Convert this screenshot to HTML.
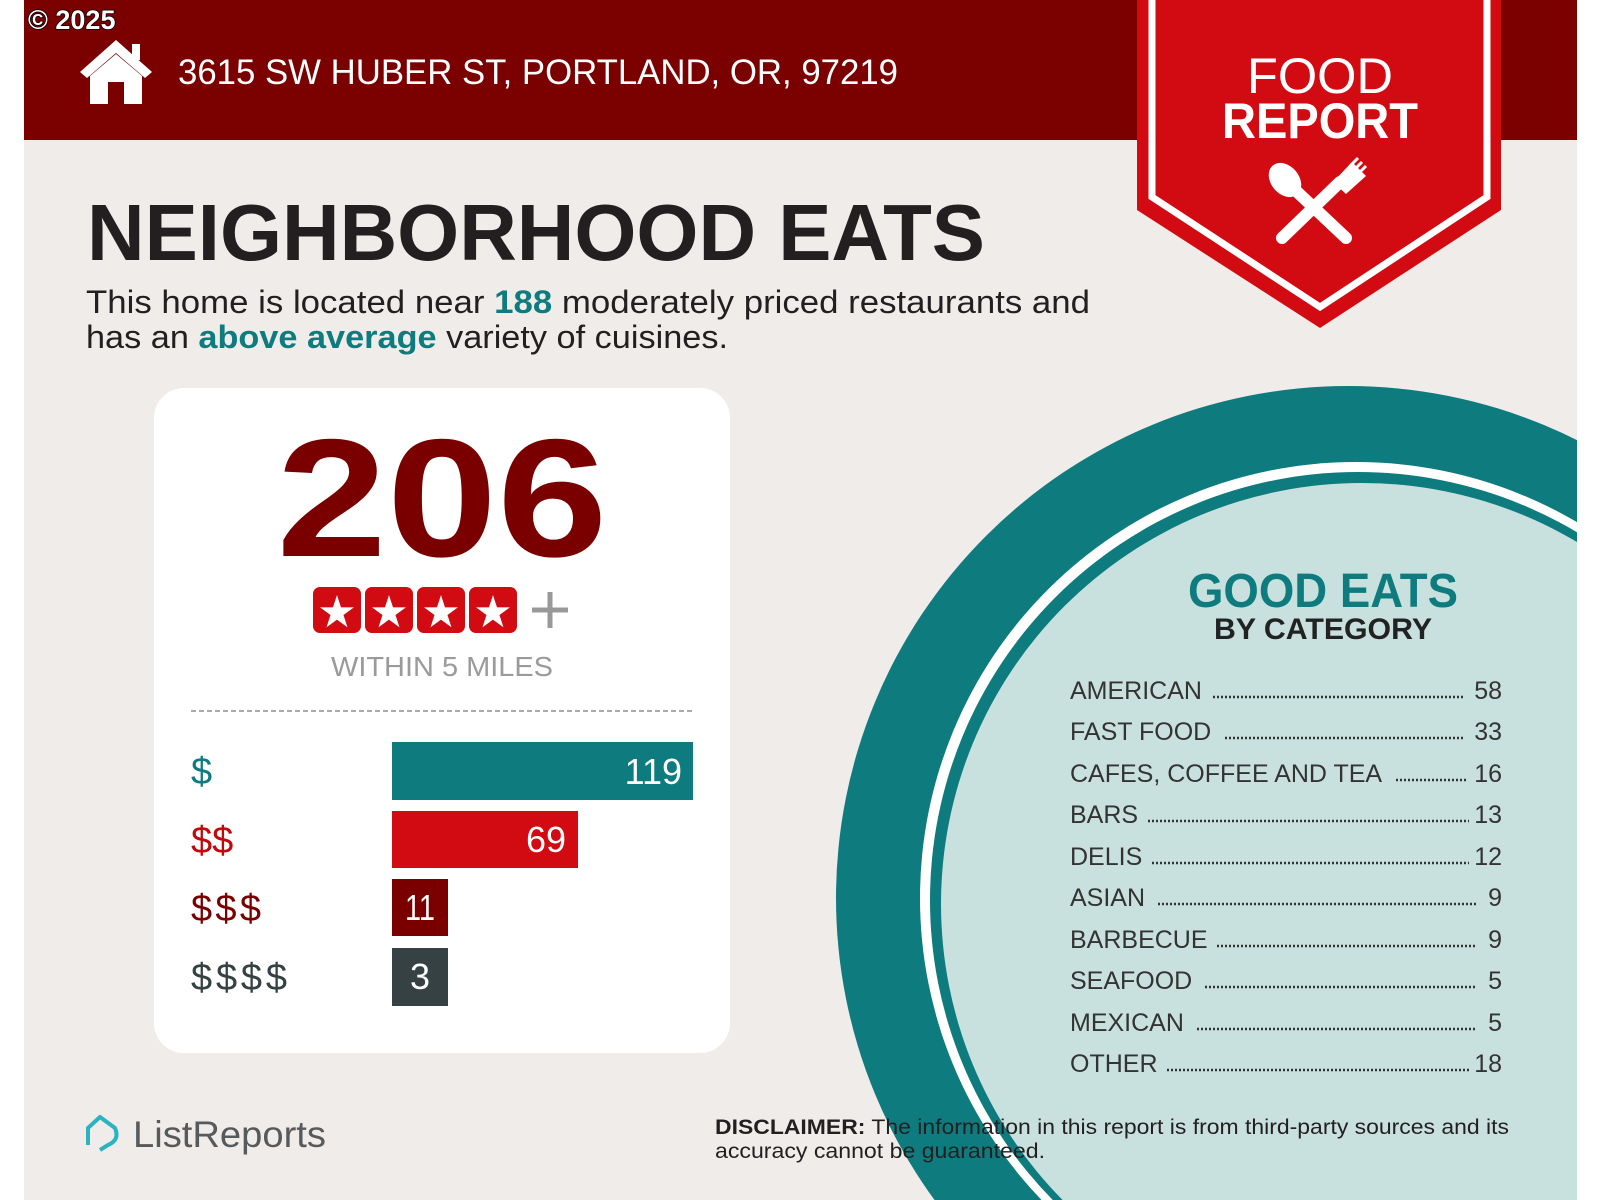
<!DOCTYPE html>
<html><head><meta charset="utf-8"><style>
html,body{margin:0;padding:0;background:#fff;width:1600px;height:1200px;overflow:hidden;}
svg{display:block;}
text{font-family:"Liberation Sans",sans-serif;}
</style></head><body>
<svg width="1600" height="1200" viewBox="0 0 1600 1200" xmlns="http://www.w3.org/2000/svg">
<defs><clipPath id="pg"><rect x="24" y="0" width="1553" height="1200"/></clipPath></defs>
<rect x="0" y="0" width="1600" height="1200" fill="#fff"/>
<rect x="24" y="0" width="1553" height="1200" fill="#f0ecea"/>
<rect x="24" y="0" width="1553" height="140" fill="#7b0000"/>
<g clip-path="url(#pg)">
<circle cx="1348" cy="898" r="512" fill="#0e7b7e"/>
<circle cx="1356" cy="898" r="436" fill="#fff"/>
<circle cx="1358" cy="900" r="428" fill="#0e7b7e"/>
<circle cx="1362" cy="904" r="421" fill="#c8e1de"/>
</g>
<text x="28" y="29" font-size="27" font-weight="bold" fill="#fff" stroke="#000" stroke-width="1.5" paint-order="stroke">© 2025</text>
<!-- house -->
<path d="M80 72 L116 40 L152 72 L145 78 L116 53 L87 78 Z" fill="#fff"/>
<path d="M90 76 L116 54 L142 76 L142 104 L124 104 L124 82 L108 82 L108 104 L90 104 Z" fill="#fff"/>
<rect x="132" y="44" width="8" height="16" fill="#fff"/>
<text x="178" y="84" font-size="35" fill="#fff" textLength="720" lengthAdjust="spacingAndGlyphs">3615 SW HUBER ST, PORTLAND, OR, 97219</text>
<!-- banner -->
<path d="M1137 0 L1501 0 L1501 210 L1320 328 L1137 210 Z" fill="#d20a11"/>
<path d="M1152 0 L1152 197 L1320 307 L1487 197 L1487 0" fill="none" stroke="#fff" stroke-width="7"/>
<text x="1320" y="93" font-size="50" fill="#fff" text-anchor="middle" textLength="146" lengthAdjust="spacingAndGlyphs">FOOD</text>
<text x="1320" y="138" font-size="50" font-weight="bold" fill="#fff" text-anchor="middle" textLength="196" lengthAdjust="spacingAndGlyphs">REPORT</text>
<line x1="1293" y1="188" x2="1346" y2="238" stroke="#fff" stroke-width="12" stroke-linecap="round"/>
<ellipse cx="1285" cy="180" rx="14" ry="19" transform="rotate(-40 1285 180)" fill="#fff"/>
<line x1="1282" y1="238" x2="1340" y2="182" stroke="#fff" stroke-width="12" stroke-linecap="round"/>
<path d="M1333 182 L1352 162 L1366 176 L1346 194 Z" fill="#fff"/>
<g stroke="#fff" stroke-width="3"><line x1="1350" y1="166" x2="1358" y2="158"/><line x1="1354" y1="170" x2="1362" y2="162"/><line x1="1358" y1="174" x2="1366" y2="166"/></g>
<!-- headline -->
<text x="87" y="260" font-size="80" font-weight="bold" fill="#231f20" textLength="898" lengthAdjust="spacingAndGlyphs">NEIGHBORHOOD EATS</text>
<text x="86" y="313" font-size="32" fill="#231f20" textLength="1004" lengthAdjust="spacingAndGlyphs">This home is located near <tspan fill="#0e7b7e" font-weight="bold">188</tspan> moderately priced restaurants and</text>
<text x="86" y="348" font-size="32" fill="#231f20" textLength="642" lengthAdjust="spacingAndGlyphs">has an <tspan fill="#0e7b7e" font-weight="bold">above average</tspan> variety of cuisines.</text>
<!-- card -->
<rect x="154" y="388" width="576" height="665" rx="30" fill="#fff"/>
<text x="442" y="556" font-size="168" font-weight="bold" fill="#7a0000" text-anchor="middle" textLength="331" lengthAdjust="spacingAndGlyphs">206</text>
<g fill="#d20a11">
<rect x="313" y="587" width="48" height="46" rx="7"/><rect x="365" y="587" width="48" height="46" rx="7"/>
<rect x="417" y="587" width="48" height="46" rx="7"/><rect x="469" y="587" width="48" height="46" rx="7"/>
</g>
<g fill="#fff" font-size="44" text-anchor="middle"><text x="337" y="627">★</text><text x="389" y="627">★</text><text x="441" y="627">★</text><text x="493" y="627">★</text></g>
<path d="M532 610 H568 M550 592 V628" stroke="#999" stroke-width="5"/>
<text x="442" y="676" font-size="28" fill="#9a9a9a" text-anchor="middle" textLength="222" lengthAdjust="spacingAndGlyphs">WITHIN 5 MILES</text>
<line x1="191" y1="711" x2="693" y2="711" stroke="#aaa" stroke-width="2" stroke-dasharray="5,3"/>
<rect x="392" y="742" width="301" height="58" fill="#0e7b7e"/>
<rect x="392" y="811" width="186" height="57" fill="#d20a11"/>
<rect x="392" y="879" width="56" height="57" fill="#7a0000"/>
<rect x="392" y="948" width="56" height="58" fill="#354142"/>
<g font-size="38">
<text x="191" y="784" fill="#0e7b7e">$</text>
<text x="191" y="853" fill="#c0080d">$$</text>
<text x="191" y="921" fill="#7a0000" textLength="70" lengthAdjust="spacing">$$$</text>
<text x="191" y="990" fill="#354142" textLength="96" lengthAdjust="spacing">$$$$</text>
</g>
<g font-size="36" fill="#fff" text-anchor="end">
<text x="682" y="784">119</text><text x="566" y="852">69</text>
</g>
<text x="420" y="920" font-size="36" fill="#fff" text-anchor="middle" textLength="30" lengthAdjust="spacingAndGlyphs">11</text>
<text x="420" y="989" font-size="36" fill="#fff" text-anchor="middle">3</text>
<!-- good eats -->
<text x="1323" y="607" font-size="48" font-weight="bold" fill="#0e7b7e" text-anchor="middle" textLength="270" lengthAdjust="spacingAndGlyphs">GOOD EATS</text>
<text x="1323" y="639" font-size="30" font-weight="bold" fill="#222" text-anchor="middle" textLength="218" lengthAdjust="spacingAndGlyphs">BY CATEGORY</text>
<g font-size="25" fill="#333">
<text x="1070" y="699">AMERICAN</text><text x="1502" y="699" text-anchor="end">58</text>
<text x="1070" y="740">FAST FOOD</text><text x="1502" y="740" text-anchor="end">33</text>
<text x="1070" y="782">CAFES, COFFEE AND TEA</text><text x="1502" y="782" text-anchor="end">16</text>
<text x="1070" y="823">BARS</text><text x="1502" y="823" text-anchor="end">13</text>
<text x="1070" y="865">DELIS</text><text x="1502" y="865" text-anchor="end">12</text>
<text x="1070" y="906">ASIAN</text><text x="1502" y="906" text-anchor="end">9</text>
<text x="1070" y="948">BARBECUE</text><text x="1502" y="948" text-anchor="end">9</text>
<text x="1070" y="989">SEAFOOD</text><text x="1502" y="989" text-anchor="end">5</text>
<text x="1070" y="1031">MEXICAN</text><text x="1502" y="1031" text-anchor="end">5</text>
<text x="1070" y="1072">OTHER</text><text x="1502" y="1072" text-anchor="end">18</text>
</g>
<g stroke="#333" stroke-width="2.5" stroke-dasharray="2,2">
<line x1="1213" y1="697" x2="1463" y2="697"/>
<line x1="1225" y1="738" x2="1465" y2="738"/>
<line x1="1396" y1="780" x2="1468" y2="780"/>
<line x1="1148" y1="821" x2="1469" y2="821"/>
<line x1="1152" y1="863" x2="1469" y2="863"/>
<line x1="1158" y1="904" x2="1477" y2="904"/>
<line x1="1217" y1="946" x2="1477" y2="946"/>
<line x1="1205" y1="987" x2="1477" y2="987"/>
<line x1="1197" y1="1029" x2="1477" y2="1029"/>
<line x1="1167" y1="1070" x2="1469" y2="1070"/>
</g>
<!-- footer -->
<path d="M88 1145 L88 1128 L100 1117 L115 1128 Q120 1140 108 1145 L100 1150" fill="none" stroke="#2ab3c0" stroke-width="4" stroke-linejoin="round"/>
<text x="133" y="1147" font-size="37" fill="#58595b" textLength="193" lengthAdjust="spacingAndGlyphs">ListReports</text>
<text x="715" y="1134" font-size="21" fill="#231f20" textLength="794" lengthAdjust="spacingAndGlyphs"><tspan font-weight="bold">DISCLAIMER:</tspan> The information in this report is from third-party sources and its</text>
<text x="715" y="1158" font-size="21" fill="#231f20" textLength="330" lengthAdjust="spacingAndGlyphs">accuracy cannot be guaranteed.</text>
</svg>
</body></html>
